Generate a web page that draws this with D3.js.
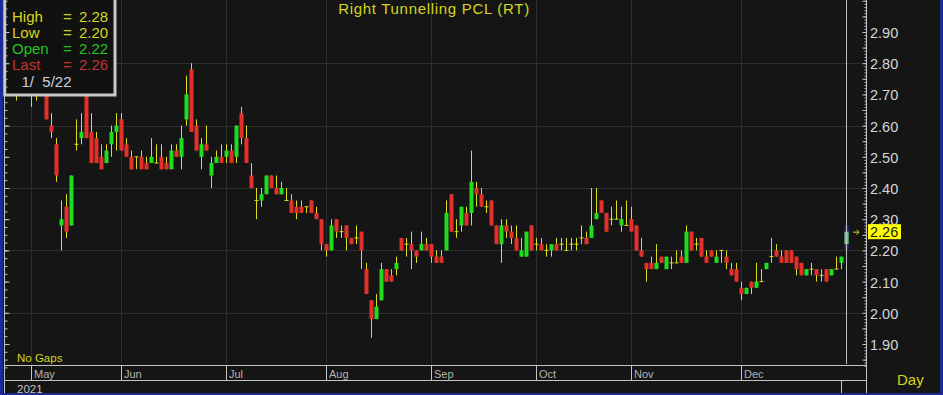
<!DOCTYPE html>
<html>
<head>
<meta charset="utf-8">
<script src="https://cdn.jsdelivr.net/npm/d3@7"></script>
<style>
  body { margin: 0; background: #151515; overflow: hidden; }
  svg { display: block; }
  text { font-family: "Liberation Sans", Arial, sans-serif; }
</style>
</head>
<body>
<script>
// ---- data (trading days, late Apr 2021 .. 5 Jan 2022) ----
var title = "Right Tunnelling PCL (RT)";

var opens = [
  2.74,2.72,2.72,2.74,2.72,2.70,2.72,2.72,2.60,2.54,
  2.28,2.34,2.28,2.54,2.56,2.72,2.58,2.56,2.50,2.48,
  2.54,2.58,2.62,2.54,2.50,2.50,2.50,2.48,2.48,2.48,
  2.50,2.48,2.46,2.52,2.50,2.62,2.78,2.60,2.50,2.54,
  2.44,2.48,2.50,2.50,2.52,2.50,2.64,2.56,2.44,2.36,
  2.36,2.38,2.44,2.40,2.38,2.36,2.36,2.34,2.34,2.34,
  2.36,2.32,2.30,2.22,2.20,2.30,2.26,2.28,2.24,2.24,
  2.26,2.14,2.04,1.98,2.04,2.14,2.12,2.14,2.24,2.22,
  2.22,2.20,2.20,2.22,2.22,2.18,2.18,2.20,2.38,2.26,
  2.28,2.32,2.32,2.40,2.38,2.34,2.36,2.28,2.22,2.28,
  2.26,2.24,2.18,2.18,2.28,2.22,2.22,2.20,2.20,2.22,
  2.22,2.20,2.22,2.22,2.24,2.24,2.24,2.30,2.36,2.32,
  2.30,2.30,2.28,2.28,2.30,2.28,2.20,2.16,2.16,2.14,
  2.18,2.14,2.16,2.16,2.18,2.16,2.26,2.22,2.24,2.18,
  2.20,2.16,2.20,2.18,2.14,2.14,2.08,2.06,2.10,2.08,
  2.10,2.14,2.18,2.20,2.18,2.20,2.20,2.18,2.16,2.12,
  2.14,2.14,2.12,2.14,2.12,2.14,2.16,2.22
];
var highs = [
  2.76,2.74,2.76,2.76,2.74,2.74,2.74,2.74,2.64,2.56,
  2.36,2.38,2.44,2.62,2.64,2.74,2.64,2.58,2.54,2.54,
  2.60,2.64,2.64,2.56,2.52,2.50,2.52,2.50,2.56,2.54,
  2.54,2.50,2.54,2.54,2.60,2.76,2.80,2.62,2.56,2.60,
  2.50,2.52,2.54,2.54,2.54,2.60,2.66,2.60,2.48,2.40,
  2.40,2.44,2.44,2.44,2.42,2.40,2.38,2.36,2.36,2.34,
  2.36,2.34,2.30,2.22,2.30,2.30,2.28,2.28,2.24,2.28,
  2.26,2.16,2.04,2.06,2.16,2.14,2.14,2.18,2.24,2.24,
  2.26,2.20,2.26,2.24,2.22,2.20,2.20,2.36,2.38,2.30,
  2.34,2.34,2.52,2.42,2.40,2.36,2.36,2.28,2.30,2.30,
  2.28,2.28,2.24,2.26,2.28,2.24,2.24,2.22,2.22,2.24,
  2.24,2.24,2.24,2.24,2.28,2.26,2.40,2.40,2.36,2.32,
  2.34,2.36,2.34,2.36,2.34,2.28,2.24,2.16,2.18,2.22,
  2.18,2.18,2.18,2.20,2.20,2.28,2.26,2.24,2.24,2.20,
  2.20,2.20,2.20,2.20,2.16,2.16,2.10,2.08,2.10,2.16,
  2.14,2.16,2.24,2.22,2.20,2.20,2.20,2.18,2.16,2.14,
  2.16,2.14,2.14,2.14,2.14,2.18,2.18,2.28
];
var lows = [
  2.70,2.68,2.70,2.70,2.66,2.68,2.70,2.62,2.56,2.42,
  2.20,2.24,2.28,2.52,2.54,2.56,2.48,2.48,2.46,2.48,
  2.50,2.52,2.52,2.50,2.46,2.46,2.46,2.46,2.48,2.48,
  2.46,2.46,2.46,2.50,2.46,2.60,2.58,2.52,2.46,2.52,
  2.40,2.48,2.48,2.48,2.48,2.48,2.54,2.48,2.40,2.30,
  2.34,2.38,2.40,2.38,2.38,2.36,2.32,2.30,2.32,2.32,
  2.32,2.30,2.20,2.18,2.20,2.24,2.24,2.20,2.22,2.22,
  2.14,2.06,1.92,1.98,2.04,2.10,2.10,2.12,2.20,2.18,
  2.14,2.16,2.20,2.20,2.16,2.16,2.16,2.20,2.26,2.24,
  2.26,2.28,2.28,2.34,2.34,2.32,2.28,2.22,2.16,2.24,
  2.22,2.20,2.18,2.18,2.20,2.20,2.20,2.18,2.18,2.20,
  2.20,2.20,2.20,2.20,2.22,2.22,2.24,2.30,2.32,2.26,
  2.28,2.30,2.26,2.28,2.26,2.20,2.18,2.10,2.14,2.14,
  2.16,2.14,2.14,2.16,2.16,2.16,2.20,2.20,2.18,2.16,
  2.18,2.16,2.16,2.14,2.12,2.10,2.04,2.06,2.06,2.08,
  2.10,2.14,2.16,2.18,2.16,2.16,2.16,2.12,2.12,2.12,
  2.12,2.10,2.10,2.10,2.12,2.14,2.14,2.20
];
var closes = [
  2.72,2.70,2.74,2.72,2.70,2.72,2.72,2.62,2.58,2.44,
  2.30,2.26,2.44,2.54,2.58,2.56,2.48,2.48,2.46,2.52,
  2.58,2.60,2.52,2.50,2.46,2.50,2.46,2.46,2.50,2.48,
  2.46,2.46,2.52,2.50,2.56,2.70,2.58,2.52,2.54,2.52,
  2.48,2.50,2.48,2.52,2.48,2.60,2.56,2.48,2.40,2.36,
  2.38,2.44,2.40,2.38,2.40,2.36,2.32,2.32,2.32,2.34,
  2.32,2.30,2.22,2.20,2.28,2.26,2.26,2.24,2.22,2.24,
  2.20,2.06,1.98,2.02,2.14,2.10,2.10,2.16,2.20,2.22,
  2.20,2.18,2.22,2.20,2.18,2.16,2.16,2.32,2.26,2.26,
  2.34,2.28,2.42,2.38,2.34,2.34,2.28,2.22,2.28,2.26,
  2.24,2.20,2.20,2.26,2.20,2.22,2.20,2.20,2.22,2.20,
  2.22,2.20,2.22,2.22,2.24,2.22,2.28,2.32,2.32,2.26,
  2.30,2.30,2.30,2.28,2.26,2.20,2.18,2.14,2.14,2.16,
  2.16,2.18,2.16,2.16,2.16,2.26,2.20,2.22,2.18,2.16,
  2.18,2.18,2.20,2.16,2.12,2.10,2.06,2.08,2.08,2.10,
  2.10,2.16,2.18,2.18,2.16,2.16,2.16,2.14,2.12,2.14,
  2.14,2.12,2.12,2.10,2.14,2.14,2.18,2.26
];

var monthLabels = ["May", "Jun", "Jul", "Aug", "Sep", "Oct", "Nov", "Dec"];
var monthStart = [4, 22, 43, 63, 84, 105, 124, 146];   // bar index of first day
var yTicks = [1.90, 2.00, 2.10, 2.20, 2.30, 2.40, 2.50, 2.60, 2.70, 2.80, 2.90];
var gridValues = [2.00, 2.20, 2.40, 2.60, 2.80];
var yearLabel = "2021";
var cursorDate = "1/  5/22";

// ---- layout ----
var W = 943, H = 395;
var plot = {left: 4.5, right: 866.5, top: 0, bottom: 366};
var yellow = "#d6d61c", green = "#1fdc1f", red = "#e3302b", wick = "#dede1a",
    gridCol = "#2e2e2e", lineCol = "#c4c4c4", blue = "#1c2a98";

var svg = d3.select("body").append("svg")
    .attr("width", W)
    .attr("height", H);

var x = d3.scaleLinear().domain([0, 167]).range([11, 846]);
var y = d3.scaleLinear().domain([1.90, 2.90]).range([344, 32]);

svg.append("rect").attr("width", W).attr("height", H).attr("fill", "#151515");

// grid
var grid = svg.append("g");
grid.selectAll("line.h").data(gridValues).enter().append("line")
    .attr("x1", plot.left).attr("x2", plot.right)
    .attr("y1", function(d) { return Math.round(y(d)) + 0.5; })
    .attr("y2", function(d) { return Math.round(y(d)) + 0.5; })
    .attr("stroke", gridCol);
grid.selectAll("line.v").data(monthStart).enter().append("line")
    .attr("x1", function(d) { return x(d) + 0.5; })
    .attr("x2", function(d) { return x(d) + 0.5; })
    .attr("y1", plot.top).attr("y2", plot.bottom)
    .attr("stroke", gridCol);

// candles
var bars = d3.range(opens.length).map(function(i) {
  return {i: i, o: opens[i], h: highs[i], l: lows[i], c: closes[i]};
});
var last = bars[bars.length - 1];

var cg = svg.append("g");
cg.selectAll("line.wick").data(bars).enter().append("line")
    .attr("x1", function(d) { return x(d.i) + 0.5; })
    .attr("x2", function(d) { return x(d.i) + 0.5; })
    .attr("y1", function(d) { return y(d.h); })
    .attr("y2", function(d) { return y(d.l); })
    .attr("stroke", wick);

cg.selectAll("rect.body").data(bars.filter(function(d) { return d.o !== d.c; })).enter().append("rect")
    .attr("x", function(d) { return x(d.i) - 1.5; })
    .attr("width", 4)
    .attr("y", function(d) { return y(Math.max(d.o, d.c)); })
    .attr("height", function(d) { return Math.abs(y(d.o) - y(d.c)); })
    .attr("fill", function(d) { return d.c > d.o ? green : red; });

cg.selectAll("line.dash").data(bars.filter(function(d) { return d.o === d.c; })).enter().append("line")
    .attr("x1", function(d) { return x(d.i) - 1.5; })
    .attr("x2", function(d) { return x(d.i) + 2.5; })
    .attr("y1", function(d) { return y(d.o); })
    .attr("y2", function(d) { return y(d.o); })
    .attr("stroke", wick);

// highlighted last bar + cursor
cg.append("rect")
    .attr("x", x(last.i) - 1.5).attr("width", 4)
    .attr("y", y(last.h)).attr("height", y(last.l) - y(last.h))
    .attr("fill", blue);
cg.append("rect")
    .attr("x", x(last.i) - 1.5).attr("width", 4)
    .attr("y", y(Math.max(last.o, last.c))).attr("height", Math.abs(y(last.o) - y(last.c)))
    .attr("fill", "#6cc86c");
svg.append("line")
    .attr("x1", x(last.i) + 0.5).attr("x2", x(last.i) + 0.5)
    .attr("y1", 0).attr("y2", 364)
    .attr("stroke", "#bdbdbd");

// legend box
svg.append("rect")
    .attr("x", 4.7).attr("y", -5).attr("width", 110.3).attr("height", 100)
    .attr("fill", "#111").attr("stroke", "#c9c9c9").attr("stroke-width", 3);
var legendRows = [
  {k: "High", v: last.h, col: yellow},
  {k: "Low", v: last.l, col: yellow},
  {k: "Open", v: last.o, col: "#22c522"},
  {k: "Last", v: last.c, col: "#c43232"}
];
var lg = svg.append("g").attr("font-size", 15);
legendRows.forEach(function(r, k) {
  var yy = 21.5 + k * 16.3;
  lg.append("text").attr("x", 12).attr("y", yy).attr("fill", r.col).text(r.k);
  lg.append("text").attr("x", 63).attr("y", yy).attr("fill", r.col).text("=");
  lg.append("text").attr("x", 79).attr("y", yy).attr("fill", r.col).text(r.v.toFixed(2));
});
lg.append("text").attr("x", 21.5).attr("y", 86.5).attr("fill", "#c9d3de")
    .style("white-space", "pre").text(cursorDate);

// title
svg.append("text")
    .attr("x", 434).attr("y", 13.5)
    .attr("text-anchor", "middle")
    .attr("font-size", 15).attr("letter-spacing", 0.7)
    .attr("fill", yellow)
    .text(title);

// left edge axis
svg.append("line").attr("x1", plot.left).attr("x2", plot.left).attr("y1", 0).attr("y2", H)
    .attr("stroke", lineCol);
var leftMinor = d3.range(73, 121).map(function(k) { return k * 0.025; });
svg.append("g").attr("transform", "translate(" + plot.left + ",0)")
    .call(d3.axisRight(y).tickValues(leftMinor).tickSize(3).tickFormat(""))
    .call(function(g) { g.select(".domain").remove(); g.selectAll("line").attr("stroke", lineCol); });
svg.append("g").attr("transform", "translate(" + plot.left + ",0)")
    .call(d3.axisRight(y).tickValues(d3.range(19, 30).map(function(k) { return k / 10; })).tickSize(5).tickFormat(""))
    .call(function(g) { g.select(".domain").remove(); g.selectAll("line").attr("stroke", lineCol); });

// right price axis
svg.append("line").attr("x1", plot.right).attr("x2", plot.right).attr("y1", 0).attr("y2", H)
    .attr("stroke", lineCol);
var minorTicks = d3.range(183, 301).map(function(k) { return k / 100; });
svg.append("g").attr("transform", "translate(" + plot.right + ",0)")
    .call(d3.axisLeft(y).tickValues(minorTicks).tickSize(2).tickFormat(""))
    .call(function(g) { g.select(".domain").remove(); g.selectAll("line").attr("stroke", lineCol); });
svg.append("g").attr("transform", "translate(" + plot.right + ",0)")
    .call(d3.axisLeft(y).tickValues(d3.range(37, 61).map(function(k) { return k / 20; })).tickSize(4).tickFormat(""))
    .call(function(g) { g.select(".domain").remove(); g.selectAll("line").attr("stroke", lineCol); });
svg.append("g").attr("transform", "translate(" + plot.right + ",0)")
    .call(d3.axisRight(y).tickValues(yTicks).tickSize(0).tickPadding(3.5).tickFormat(d3.format(".2f")))
    .call(function(g) {
      g.select(".domain").remove();
      g.attr("font-family", null).attr("font-size", 14.5);
      g.selectAll("text").attr("fill", "#d6d6d6").attr("dy", "0.38em");
    });

// last price tag
svg.append("path")
    .attr("d", "M853," + (y(last.c) + 0.5) + "H859M856.5," + (y(last.c) - 2) + "L859," + (y(last.c) + 0.5) + "L856.5," + (y(last.c) + 3))
    .attr("stroke", yellow).attr("fill", "none");
svg.append("rect")
    .attr("x", 868).attr("y", y(last.c) - 7.5).attr("width", 33).attr("height", 15)
    .attr("fill", "#ffff00");
svg.append("text")
    .attr("x", 870).attr("y", y(last.c) + 5.5)
    .attr("font-size", 14.5).attr("fill", "#1a1a1a")
    .text(last.c.toFixed(2));

// bottom time band
svg.append("text").attr("x", 17).attr("y", 362).attr("font-size", 11.5).attr("fill", yellow).text("No  Gaps");
[plot.bottom - 0.5, 380.5].forEach(function(yy) {
  svg.append("line").attr("x1", plot.left).attr("x2", plot.right).attr("y1", yy).attr("y2", yy)
      .attr("stroke", lineCol);
});
svg.append("g").attr("transform", "translate(0," + plot.bottom + ")")
    .call(d3.axisBottom(x).tickValues(monthStart).tickSize(14)
      .tickFormat(function(d, k) { return monthLabels[k]; }))
    .call(function(g) {
      g.select(".domain").remove();
      g.attr("font-family", null).attr("font-size", 11);
      g.selectAll("line").attr("stroke", lineCol);
      g.selectAll("text").attr("fill", "#b4b4b4").attr("text-anchor", "start")
        .attr("x", 2.5).attr("y", 12).attr("dy", 0);
    });
svg.append("line").attr("x1", 841.5).attr("x2", 841.5).attr("y1", 380).attr("y2", H).attr("stroke", lineCol);
svg.append("text").attr("x", 17).attr("y", 392.5).attr("font-size", 11.5).attr("fill", "#c2c2c2").text(yearLabel);
svg.append("text").attr("x", 897).attr("y", 385).attr("font-size", 15).attr("fill", yellow).text("Day");

// window borders
svg.append("rect").attr("x", 0).attr("y", 0).attr("width", 3).attr("height", H).attr("fill", blue);
svg.append("rect").attr("x", 940).attr("y", 0).attr("width", 3).attr("height", H).attr("fill", blue);
svg.append("rect").attr("x", 0).attr("y", 393).attr("width", W).attr("height", 2).attr("fill", blue);
</script>
</body>
</html>
